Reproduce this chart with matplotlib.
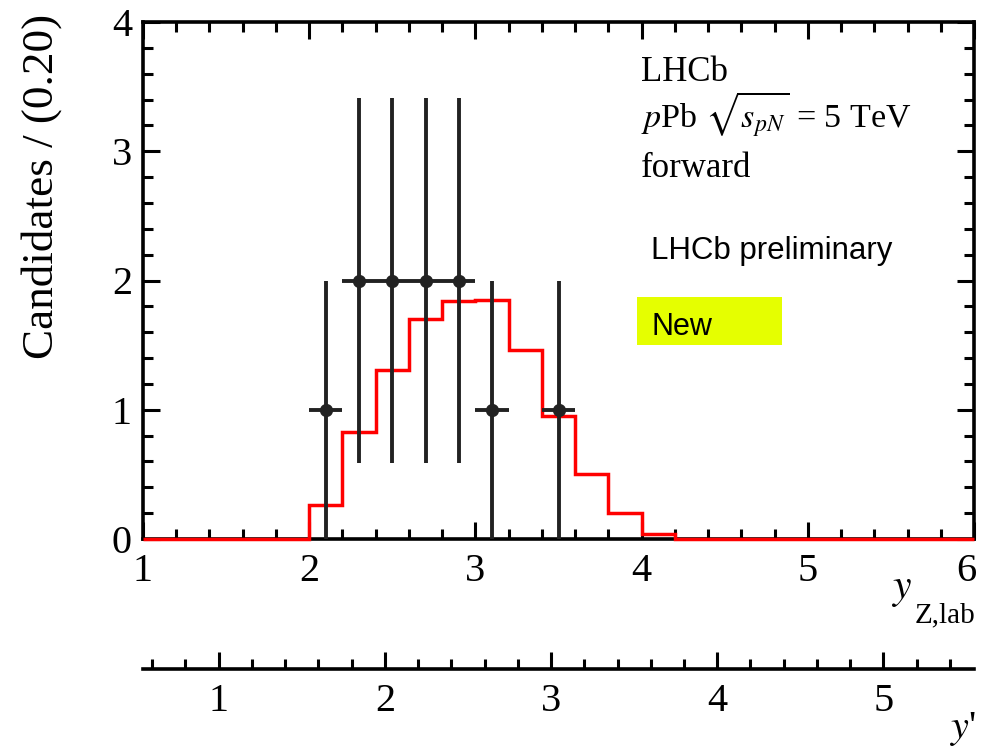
import numpy as np
import matplotlib
matplotlib.use("Agg")
import matplotlib.pyplot as plt
from matplotlib.ticker import MultipleLocator
from matplotlib.patches import Rectangle
from matplotlib.transforms import ScaledTranslation

plt.rcParams['font.family'] = ['Liberation Serif', 'DejaVu Serif']
plt.rcParams['mathtext.fontset'] = 'stix'

# Data
data_x = [2.1, 2.3, 2.5, 2.7, 2.9, 3.1, 3.5]
data_y = [1, 2, 2, 2, 2, 1, 1]
data_xerr = [0.1] * 7
data_yerr = [1.0, 1.41, 1.41, 1.41, 1.41, 1.0, 1.0]

bin_edges = np.round(np.arange(1.0, 6.0001, 0.2), 2)
hist_vals = [0, 0, 0, 0, 0, 0.26, 0.83, 1.31, 1.70, 1.84, 1.85, 1.46, 0.95, 0.50,
             0.20, 0.04, 0, 0, 0, 0, 0, 0, 0, 0, 0]

xticks_main = [1, 2, 3, 4, 5, 6]
yticks_main = [0, 1, 2, 3, 4]
yprime_ticks = [1, 2, 3, 4, 5]
yprime_offset = 0.455

W, H = 981, 752
fig = plt.figure(figsize=(W / 100, H / 100), dpi=100)

L, R, T, B = 143, 974, 22, 539
ax = fig.add_axes([L / W, 1 - B / H, (R - L) / W, (B - T) / H])

ax.stairs(hist_vals, bin_edges, color='#ff0000', lw=2.5, zorder=3, clip_on=False)
ax.errorbar(data_x, data_y, xerr=data_xerr, yerr=data_yerr, fmt='o', color='#222222',
            ms=8.5, elinewidth=2.8, capsize=0, zorder=4)

ax.set_xlim(1, 6)
ax.set_ylim(0, 4)
ax.set_xticks(xticks_main)
ax.set_yticks(yticks_main)
ax.xaxis.set_minor_locator(MultipleLocator(0.2))
ax.yaxis.set_minor_locator(MultipleLocator(0.2))
ax.tick_params(which='both', direction='in', top=True, right=True, width=2.2, colors='black',
               labelsize=29)
ax.tick_params(which='major', length=12)
ax.tick_params(which='minor', length=7)
ax.tick_params(axis='x', pad=10)
ax.tick_params(axis='y', pad=8)
for s in ax.spines.values():
    s.set_linewidth(2.6)
fig.canvas.draw()
lbl6 = ax.get_xticklabels()[-1]
lbl6.set_transform(lbl6.get_transform() + ScaledTranslation(-8 / 100, 0, fig.dpi_scale_trans))

# Axis labels
fig.text(42 / W, 1 - 14 / H, 'Candidates / (0.20)', rotation=90, ha='center', va='top', fontsize=32.5)
fig.text(912 / W, 1 - 598 / H, r'$y$', ha='right', va='baseline', fontsize=30)
fig.text(975 / W, 1 - 622 / H, 'Z,lab', ha='right', va='baseline', fontsize=21)

# Annotations
fig.text(641 / W, 1 - 81 / H, 'LHCb', fontsize=25, va='baseline')
fig.text(641 / W, 1 - 128 / H, r'$p$Pb $\sqrt{s_{pN}}$ = 5 TeV', fontsize=24.5, va='baseline')
fig.text(641 / W, 1 - 177 / H, 'forward', fontsize=25, va='baseline')
fig.text(651 / W, 1 - 259 / H, 'LHCb preliminary', fontsize=22.5, va='baseline',
         family='Liberation Sans')
fig.patches.append(Rectangle((637 / W, 1 - 345 / H), (782 - 637) / W, (345 - 297) / H,
                             transform=fig.transFigure, facecolor='#e5ff00', edgecolor='none'))
fig.text(652 / W, 1 - 335 / H, 'New', fontsize=22, va='baseline', family='Liberation Sans')

# Secondary axis y'
ax2 = fig.add_axes([L / W, 1 - 669 / H, (R - L) / W, 0.04])
ax2.set_xlim(1 - yprime_offset, 6 - yprime_offset)
ax2.set_ylim(0, 1)
for k in ['top', 'left', 'right']:
    ax2.spines[k].set_visible(False)
ax2.spines['bottom'].set_linewidth(2.6)
ax2.set_yticks([])
ax2.set_xticks(yprime_ticks)
ax2.xaxis.set_minor_locator(MultipleLocator(0.2))
ax2.tick_params(which='both', direction='in', width=2.2, labelsize=29, pad=10)
ax2.tick_params(which='major', length=12)
ax2.tick_params(which='minor', length=7)
ax2.patch.set_visible(False)
fig.text(976 / W, 1 - 738 / H, r"$y$'", ha='right', va='baseline', fontsize=29)

fig.savefig('out.png', dpi=100)
